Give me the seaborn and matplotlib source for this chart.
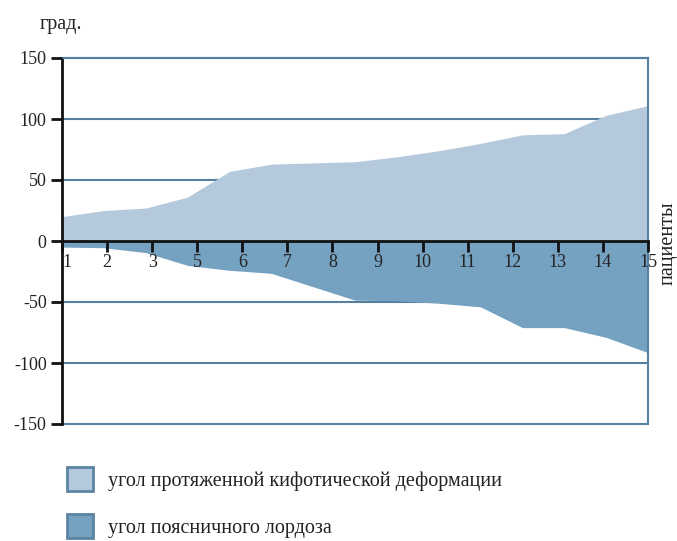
import numpy as np
import matplotlib
matplotlib.use("Agg")
import matplotlib.pyplot as plt
import seaborn as sns
from matplotlib.patches import Patch

# ------------------------------------------------------------
# DATA
# ------------------------------------------------------------
PATIENTS = list(range(1, 16))
KYPHOSIS = [20, 25, 27, 36, 57, 63, 64, 65, 69, 74, 80, 87, 88, 103, 111]
LORDOSIS = [-5, -5.5, -9.5, -20, -24, -26.5, -37.5, -48.5, -49, -51, -54, -71, -71, -79, -91.5]
X_TICK_LABELS = ["1", "2", "3", "5", "6", "7", "8", "9", "10", "11", "12", "13", "14", "15"]
Y_TICKS = [-150, -100, -50, 0, 50, 100, 150]
LEGEND_LABELS = ["угол протяженной кифотической деформации", "угол поясничного лордоза"]

# ------------------------------------------------------------
# STYLE
# ------------------------------------------------------------
sns.set_style("white")
plt.rcParams["font.family"] = ["Liberation Serif", "DejaVu Serif"]
FS = 13        # digits
FS_TXT = 14.5  # cyrillic captions
LIGHT = "#b5c9dc"
DARK = "#76a2c2"
GRID = "#55809f"
EDGE = "#5c84a3"
TEXT = "#222222"

fig = plt.figure(figsize=(6.77, 5.41), dpi=100)
ax = fig.add_axes([62 / 677, 1 - 424 / 541, (648 - 62) / 677, (424 - 58) / 541])
ax.set_axisbelow(False)  # ticks and labels above the filled areas

ax.fill_between(PATIENTS, 0, KYPHOSIS, color=LIGHT, lw=0, zorder=0.8)
ax.fill_between(PATIENTS, 0, LORDOSIS, color=DARK, lw=0, zorder=0.8)

ax.set_xlim(PATIENTS[0], PATIENTS[-1])
ax.set_ylim(Y_TICKS[0], Y_TICKS[-1])

# horizontal grid lines (blue), except the zero axis
for y in Y_TICKS:
    if y != 0:
        ax.axhline(y, color=GRID, lw=1.5, zorder=0.5, clip_on=False)

# spines
ax.spines["left"].set_color("#111111")
ax.spines["left"].set_linewidth(2)
ax.spines["bottom"].set_position(("data", 0))
ax.spines["bottom"].set_color("#111111")
ax.spines["bottom"].set_linewidth(2)
ax.spines["bottom"].set_zorder(3)
ax.spines["top"].set_color(GRID)
ax.spines["top"].set_linewidth(1.5)
ax.spines["right"].set_color(GRID)
ax.spines["right"].set_linewidth(1.5)

# ticks
xt = np.linspace(PATIENTS[0], PATIENTS[-1], len(X_TICK_LABELS))
ax.set_xticks(xt)
ax.set_xticklabels(X_TICK_LABELS, fontsize=FS, color=TEXT)
ax.set_yticks(Y_TICKS)
ax.set_yticklabels([str(v) for v in Y_TICKS], fontsize=FS, color=TEXT)
ax.tick_params(axis="x", bottom=True, direction="out", length=8, width=2,
               color="#111111", pad=1.5)
ax.tick_params(axis="y", left=True, direction="out", length=8, width=2,
               color="#111111", pad=3)
lbls = ax.get_xticklabels()
lbls[0].set_horizontalalignment("left")

# axis captions
fig.text(40 / 677, 1 - 24 / 541, "град.", fontsize=FS_TXT, color=TEXT, va="center", ha="left")
fig.text(668 / 677, 1 - 243 / 541, "пациенты", fontsize=FS_TXT, color=TEXT,
         rotation=90, va="center", ha="center")

# legend
handles = [Patch(facecolor=LIGHT, edgecolor=EDGE, lw=2),
           Patch(facecolor=DARK, edgecolor=EDGE, lw=2)]
fig.legend(handles, LEGEND_LABELS, loc="upper left",
           bbox_to_anchor=(67 / 677, 1 - 467 / 541), frameon=False,
           fontsize=FS_TXT, handlelength=1.3, handleheight=1.45,
           handletextpad=0.72, labelspacing=1.15, borderpad=0,
           borderaxespad=0, labelcolor=TEXT)

fig.savefig("out.png", dpi=100)
